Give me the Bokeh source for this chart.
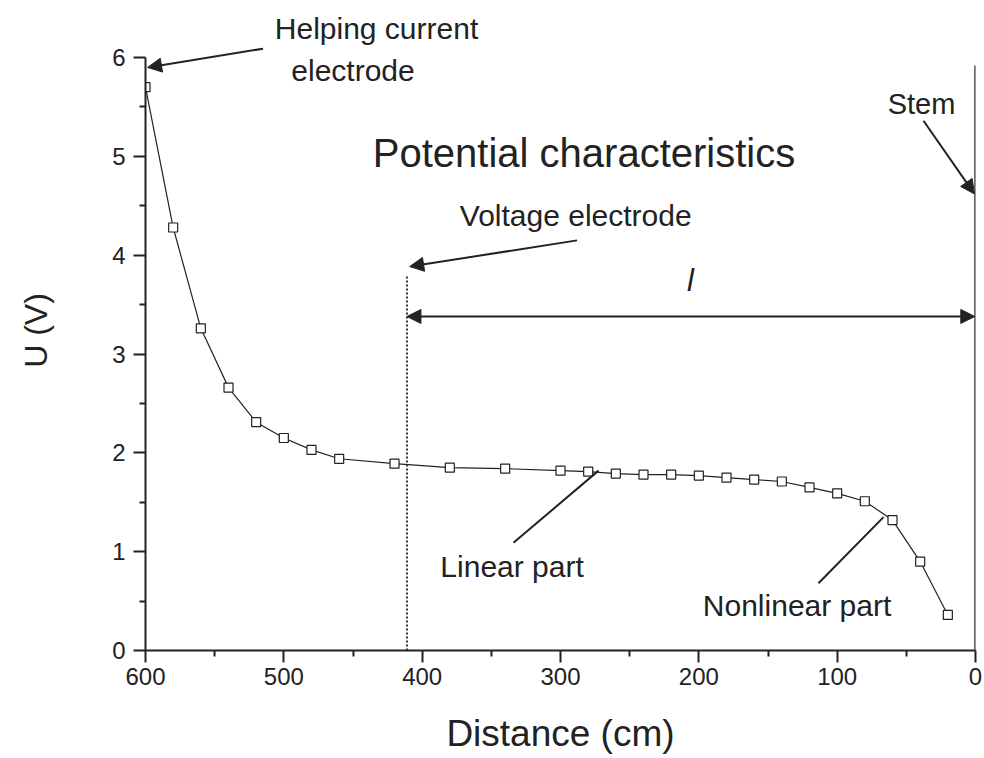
from bokeh.plotting import figure
from bokeh.models import Range1d, FixedTicker, Arrow, NormalHead
from bokeh.core.properties import value
from bokeh.embed import file_html
from bokeh.resources import INLINE

# Data
distance_cm = [600, 580, 560, 540, 520, 500, 480, 460, 420, 380, 340, 300, 280,
               260, 240, 220, 200, 180, 160, 140, 120, 100, 80, 60, 40, 20]
voltage_u = [5.70, 4.28, 3.26, 2.66, 2.31, 2.15, 2.03, 1.94, 1.89, 1.85, 1.84, 1.82, 1.81,
             1.79, 1.78, 1.78, 1.77, 1.75, 1.73, 1.71, 1.65, 1.59, 1.51, 1.32, 0.90, 0.36]
x_ticks = [0, 100, 200, 300, 400, 500, 600]
x_minor = [50, 150, 250, 350, 450, 550]
y_ticks = [0, 1, 2, 3, 4, 5, 6]
y_minor = [0.5, 1.5, 2.5, 3.5, 4.5, 5.5]
voltage_electrode_cm = 411
stem_cm = 0

FONT = "Liberation Sans"
TXT = "#222222"

p = figure(width=984, height=758, frame_width=830, frame_height=640,
           min_border_left=145, min_border_right=9, min_border_top=10, min_border_bottom=108,
           x_range=Range1d(600, 0), y_range=Range1d(0, 6.476),
           output_backend="svg", toolbar_location=None)
p.outline_line_color = None
p.grid.visible = False
p.background_fill_color = "white"
p.border_fill_color = "white"

for ax, ticks, minor in ((p.xaxis[0], x_ticks, x_minor), (p.yaxis[0], y_ticks, y_minor)):
    ax.ticker = FixedTicker(ticks=ticks, minor_ticks=minor)
    ax.axis_line_width = 2
    ax.axis_line_color = "#222222"
    ax.major_tick_line_width = 2
    ax.major_tick_line_color = "#222222"
    ax.minor_tick_line_width = 2
    ax.minor_tick_line_color = "#222222"
    ax.major_tick_out = 12
    ax.major_tick_in = 0
    ax.minor_tick_out = 6
    ax.minor_tick_in = 0
    ax.major_label_text_font = FONT
    ax.major_label_text_font_size = "24px"
    ax.major_label_text_color = TXT

p.xaxis.bounds = (0, 600)
p.yaxis.bounds = (0, 6)
p.xaxis.major_label_standoff = 5
p.yaxis.major_label_standoff = 8
p.xaxis.axis_label = "Distance (cm)"
p.xaxis.axis_label_text_font = FONT
p.xaxis.axis_label_text_font_size = "37px"
p.xaxis.axis_label_text_font_style = "normal"
p.xaxis.axis_label_text_color = TXT
p.xaxis.axis_label_standoff = 25

p.yaxis.axis_label = "U (V)"
p.yaxis.axis_label_text_font = FONT
p.yaxis.axis_label_text_font_size = "32px"
p.yaxis.axis_label_text_font_style = "normal"
p.yaxis.axis_label_text_color = TXT
p.yaxis.axis_label_standoff = 55

# curve + markers
p.line(distance_cm, voltage_u, line_color="#222222", line_width=1.2)
p.scatter(distance_cm, voltage_u, marker="square", size=9, fill_color="white",
          line_color="#222222", line_width=1.2)

# Stem (x = 0) and voltage electrode (dotted)
p.line([stem_cm, stem_cm], [0, 5.92], line_color="#333333", line_width=2.5)
p.line([voltage_electrode_cm, voltage_electrode_cm], [0, 3.79], line_color="#333333",
       line_width=2, line_dash="2 2")

def txt(x, y, s, size="30px", style="normal"):
    p.text(x=[x], y=[y], text=[s], text_font=value(FONT), text_font_size=size,
           text_font_style=style, text_color=TXT, text_align="center",
           text_baseline="middle")

def arrow(x0, y0, x1, y1, both=False):
    head = dict(size=14, fill_color="#222222", line_color="#222222")
    p.add_layout(Arrow(x_start=x0, y_start=y0, x_end=x1, y_end=y1,
                       line_color="#222222", line_width=2,
                       end=NormalHead(**head),
                       start=NormalHead(**head) if both else None))

txt(433, 6.29, "Helping current")
txt(450, 5.87, "electrode")
arrow(515, 6.09, 598.5, 5.90)

txt(283, 5.03, "Potential characteristics", size="40px")

txt(289, 4.40, "Voltage electrode")
arrow(288, 4.15, 409, 3.885)

txt(206, 3.74, "l", size="31px", style="italic")
arrow(411, 3.38, 0.5, 3.38, both=True)

txt(39, 5.53, "Stem", size="29px")
arrow(37.6, 5.36, 0.8, 4.62)

txt(335, 0.85, "Linear part")
p.line([334, 272.5], [1.09, 1.82], line_color="#222222", line_width=2)

txt(129, 0.455, "Nonlinear part")
p.line([113.5, 66.5], [0.68, 1.35], line_color="#222222", line_width=2)

open("out.html", "w").write(file_html(p, INLINE))
